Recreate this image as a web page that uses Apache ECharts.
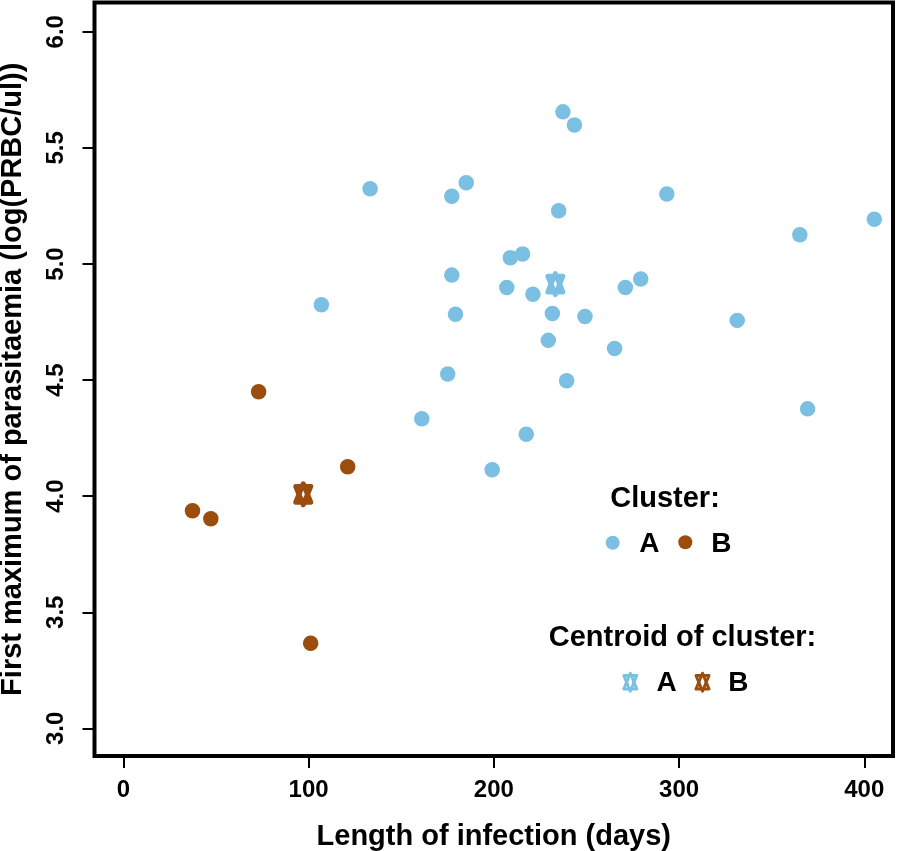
<!DOCTYPE html>
<html>
<head>
<meta charset="utf-8">
<script src="https://cdn.jsdelivr.net/npm/echarts@6/dist/echarts.min.js"></script>
<style>html,body{margin:0;padding:0;background:#fff;}#c{width:897px;height:851px;}</style>
</head>
<body>
<div id="c"></div>
<script>
// Cluster A points: length of infection (days), first maximum (log PRBC/ul)
var clusterA_days = [133.2,185.1,177.3,237.3,243.5,235.0,293.4,405.4,365.2,208.9,215.5,177.3,207.0,221.1,271.0,279.3,179.3,231.6,249.2,331.4,229.4,265.2,175.1,239.3,369.4,106.9,161.1,217.5,199.1];
var clusterA_max  = [5.324,5.350,5.292,5.655,5.598,5.229,5.301,5.193,5.126,5.027,5.043,4.952,4.899,4.870,4.899,4.935,4.783,4.787,4.774,4.757,4.671,4.636,4.526,4.497,4.376,4.824,4.333,4.267,4.114];
// Cluster B points
var clusterB_days = [73.0,121.1,37.3,47.2,101.1];
var clusterB_max  = [4.450,4.127,3.937,3.903,3.367];
// Centroids
var centroidA = [233.2, 4.913];
var centroidB = [97.1, 4.008];
// Axis ticks
var xTicks = [0,100,200,300,400];
var yTicks = [3.0,3.5,4.0,4.5,5.0,5.5,6.0];

var colA = '#7BBFE3', colB = '#9A4D0D';
var FONT = '"Liberation Sans", Arial, sans-serif';

function zip(a,b){return a.map(function(v,i){return [v,b[i]];});}
function starPolys(cx,cy,hw,hh,color,lw){
  var yb = hh*1.166/1.555;
  var up = [[cx,cy-hh],[cx+hw,cy+yb],[cx-hw,cy+yb]];
  var dn = [[cx,cy+hh],[cx+hw,cy-yb],[cx-hw,cy-yb]];
  return [up,dn].map(function(p){
    return {type:'polygon',shape:{points:p},style:{fill:'none',stroke:color,lineWidth:lw,lineJoin:'round'}};
  });
}
function centroidSeries(pt,color){
  return {type:'custom',data:[pt],renderItem:function(params,api){
    var p = api.coord([api.value(0),api.value(1)]);
    return {type:'group',children:starPolys(p[0],p[1],7.5,10.5,color,5)};
  }};
}

var graphics = [
  {type:'text',x:665,y:499,style:{text:'Cluster:',font:'bold 29px '+FONT,fill:'#000',align:'center',verticalAlign:'middle'}},
  {type:'circle',shape:{cx:612.7,cy:542.7,r:7},style:{fill:colA}},
  {type:'text',x:649.3,y:544,style:{text:'A',font:'bold 28px '+FONT,fill:'#000',align:'center',verticalAlign:'middle'}},
  {type:'circle',shape:{cx:685.3,cy:542.3,r:7},style:{fill:colB}},
  {type:'text',x:721.3,y:544,style:{text:'B',font:'bold 28px '+FONT,fill:'#000',align:'center',verticalAlign:'middle'}},
  {type:'text',x:682.5,y:637.5,style:{text:'Centroid of cluster:',font:'bold 29px '+FONT,fill:'#000',align:'center',verticalAlign:'middle'}},
  {type:'text',x:666.7,y:683,style:{text:'A',font:'bold 28px '+FONT,fill:'#000',align:'center',verticalAlign:'middle'}},
  {type:'text',x:738.3,y:683,style:{text:'B',font:'bold 28px '+FONT,fill:'#000',align:'center',verticalAlign:'middle'}}
].concat(starPolys(630.3,682.2,6.5,9,colA,3)).concat(starPolys(702.5,682.2,6.5,9,colB,3));

var chart = echarts.init(document.getElementById('c'));
chart.setOption({
  animation:false,
  backgroundColor:'#fff',
  grid:{left:94.5,right:4,top:2.5,bottom:95,show:true,borderColor:'#000',borderWidth:4,backgroundColor:'transparent',
    containLabel:false,outerBoundsMode:'none'},
  xAxis:{type:'value',min:-15.6,max:415.5,
    name:'Length of infection (days)',nameLocation:'middle',nameGap:66,
    nameTextStyle:{fontFamily:FONT,fontWeight:'bold',fontSize:29,color:'#000'},
    axisLine:{show:false,onZero:false},splitLine:{show:false},
    axisTick:{show:true,length:12,lineStyle:{color:'#000',width:2},customValues:xTicks},
    axisLabel:{fontFamily:FONT,fontWeight:'bold',fontSize:24,color:'#000',margin:22,customValues:xTicks}
  },
  yAxis:{type:'value',min:2.881,max:6.126,
    name:'First maximum of parasitaemia (log(PRBC/ul))',nameLocation:'middle',nameGap:67,nameRotate:90,
    nameTextStyle:{fontFamily:FONT,fontWeight:'bold',fontSize:29,color:'#000'},
    axisLine:{show:false,onZero:false},splitLine:{show:false},
    axisTick:{show:true,length:12,lineStyle:{color:'#000',width:2},customValues:yTicks},
    axisLabel:{fontFamily:FONT,fontWeight:'bold',fontSize:24,color:'#000',margin:26,rotate:90,customValues:yTicks,
      formatter:function(v){return v.toFixed(1);}}
  },
  series:[
    {type:'scatter',data:zip(clusterA_days,clusterA_max),symbol:'circle',symbolSize:15.5,itemStyle:{color:colA,opacity:1}},
    {type:'scatter',data:zip(clusterB_days,clusterB_max),symbol:'circle',symbolSize:15.5,itemStyle:{color:colB,opacity:1}},
    centroidSeries(centroidA,colA),
    centroidSeries(centroidB,colB)
  ],
  graphic:graphics
});
</script>
</body>
</html>
